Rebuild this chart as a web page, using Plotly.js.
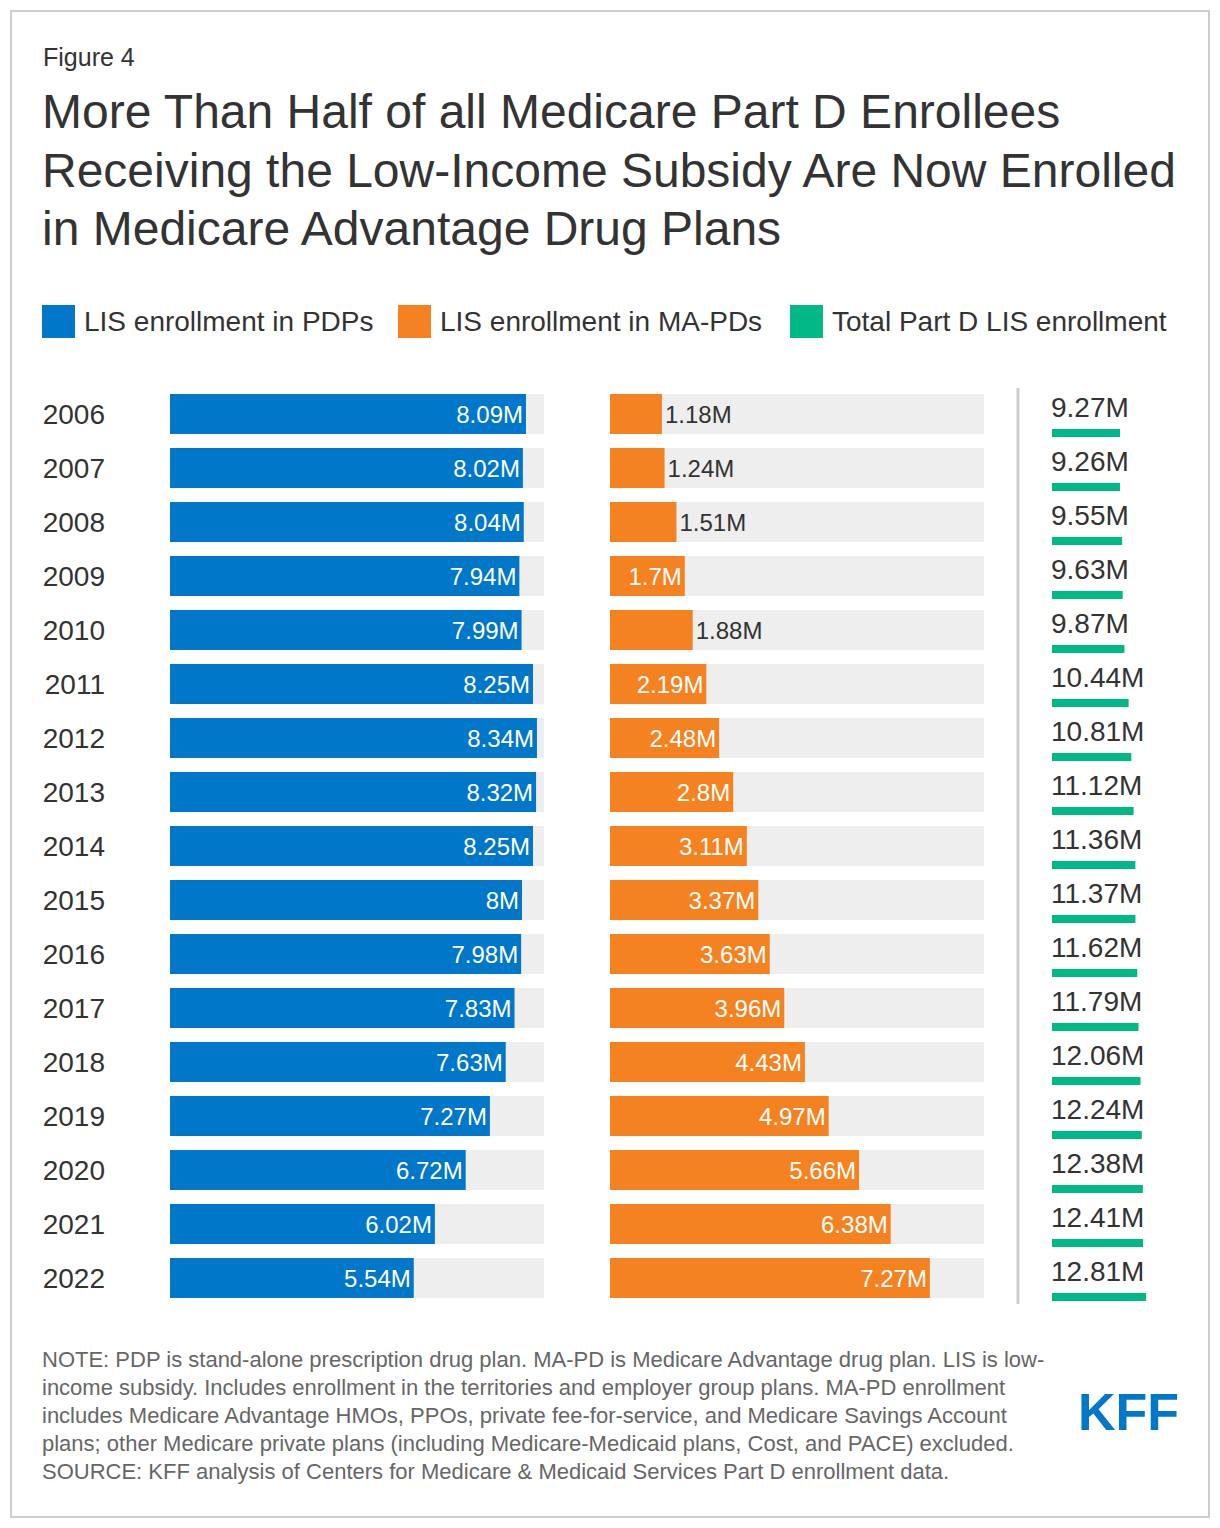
<!DOCTYPE html>
<html>
<head>
<meta charset="utf-8">
<script src="https://cdn.plot.ly/plotly-3.0.1.min.js"></script>
<style>html,body{margin:0;padding:0;background:#fff;}#chart{width:1220px;height:1528px;}</style>
</head>
<body>
<div id="chart"></div>
<script>
// ---- data ----
const years = ['2006','2007','2008','2009','2010','2011','2012','2013','2014','2015','2016','2017','2018','2019','2020','2021','2022'];
const pdpValues = [8.09,8.02,8.04,7.94,7.99,8.25,8.34,8.32,8.25,8.00,7.98,7.83,7.63,7.27,6.72,6.02,5.54];
const mapdValues = [1.18,1.24,1.51,1.70,1.88,2.19,2.48,2.80,3.11,3.37,3.63,3.96,4.43,4.97,5.66,6.38,7.27];
const totalValues = [9.27,9.26,9.55,9.63,9.87,10.44,10.81,11.12,11.36,11.37,11.62,11.79,12.06,12.24,12.38,12.41,12.81];
const mapdLabelPos = ['outside','outside','outside','inside','outside','inside','inside','inside','inside','inside','inside','inside','inside','inside','inside','inside','inside'];
const seriesNames = ['LIS enrollment in PDPs','LIS enrollment in MA-PDs','Total Part D LIS enrollment'];
const figureLabel = 'Figure 4';
const titleLines = ['More Than Half of all Medicare Part D Enrollees','Receiving the Low-Income Subsidy Are Now Enrolled','in Medicare Advantage Drug Plans'];
const noteLines = [
 'NOTE: PDP is stand-alone prescription drug plan. MA-PD is Medicare Advantage drug plan. LIS is low-',
 'income subsidy. Includes enrollment in the territories and employer group plans. MA-PD enrollment',
 'includes Medicare Advantage HMOs, PPOs, private fee-for-service, and Medicare Savings Account',
 'plans; other Medicare private plans (including Medicare-Medicaid plans, Cost, and PACE) excluded.',
 'SOURCE: KFF analysis of Centers for Medicare &amp; Medicaid Services Part D enrollment data.'
];
const panelMax = 8.5;
const totalMax = 13;

// ---- style ----
const W = 1220, H = 1528;
const FONT = 'Liberation Sans, Arial, Helvetica, sans-serif';
const BLUE = '#0077C8', ORANGE = '#F58220', GREEN = '#00B987', BG = '#EEEEEE', TXT = '#333333';
const X = p => p / W;
const Y = p => 1 - p / H;
const fmt = v => String(+v.toFixed(2)) + 'M';

const rowTop = 387, rowBottom = 1305;

const bgBar = (xa) => ({
  type: 'bar', orientation: 'h', y: years, x: years.map(() => panelMax),
  xaxis: xa, yaxis: 'y', marker: {color: BG}, width: 0.74,
  hoverinfo: 'skip', showlegend: false
});

const traces = [
  bgBar('x'),
  {
    type: 'bar', orientation: 'h', name: seriesNames[0], y: years, x: pdpValues,
    xaxis: 'x', yaxis: 'y', marker: {color: BLUE}, width: 0.74,
    text: pdpValues.map(fmt), textposition: 'inside', insidetextanchor: 'end',
    textfont: {family: FONT, size: 24, color: '#ffffff'}, constraintext: 'none',
    cliponaxis: false, showlegend: false, hoverinfo: 'x+y'
  },
  bgBar('x2'),
  {
    type: 'bar', orientation: 'h', name: seriesNames[1], y: years, x: mapdValues,
    xaxis: 'x2', yaxis: 'y', marker: {color: ORANGE}, width: 0.74,
    text: mapdValues.map(fmt), textposition: mapdLabelPos, insidetextanchor: 'end',
    insidetextfont: {family: FONT, size: 24, color: '#ffffff'},
    outsidetextfont: {family: FONT, size: 24, color: TXT}, constraintext: 'none',
    cliponaxis: false, showlegend: false, hoverinfo: 'x+y'
  },
  {
    type: 'bar', orientation: 'h', name: seriesNames[2], y: years, x: totalValues,
    xaxis: 'x3', yaxis: 'y', marker: {color: GREEN}, width: 8/54, offset: 15/54,
    showlegend: false, hoverinfo: 'x+y'
  }
];

const annotations = [];
annotations.push({xref:'paper', yref:'paper', x: X(41), y: Y(57), xanchor:'left', yanchor:'middle',
  text: figureLabel, showarrow:false, font:{family:FONT, size:25, color:TXT}});
titleLines.forEach((t, i) => annotations.push({xref:'paper', yref:'paper', x: X(40), y: Y(112 + i*58),
  xanchor:'left', yanchor:'middle', text: t, showarrow:false, font:{family:FONT, size:48, color:TXT}}));
noteLines.forEach((t, i) => annotations.push({xref:'paper', yref:'paper', x: X(40), y: Y(1359 + i*28.2),
  xanchor:'left', yanchor:'middle', text: t, showarrow:false, font:{family:FONT, size:22, color:'#666666'}}));
// legend
const legendItems = [{x:42, c:BLUE},{x:398, c:ORANGE},{x:790, c:GREEN}];
const shapes = [];
legendItems.forEach((it, i) => {
  shapes.push({type:'rect', xref:'paper', yref:'paper', x0:X(it.x), x1:X(it.x+33), y0:Y(305), y1:Y(338),
    fillcolor: it.c, line:{width:0}});
  annotations.push({xref:'paper', yref:'paper', x:X(it.x+40), y:Y(321), xanchor:'left', yanchor:'middle',
    text: seriesNames[i], showarrow:false, font:{family:FONT, size:28, color:TXT}});
});
// total labels (category axis -> use serial index)
years.forEach((yr, i) => annotations.push({xref:'x3', yref:'y', x:0, y:i, xanchor:'left', yanchor:'middle',
  yshift: 7, xshift: -3, text: fmt(totalValues[i]), showarrow:false, font:{family:FONT, size:28, color:TXT}}));
// KFF logo
annotations.push({xref:'paper', yref:'paper', x:X(1128), y:Y(1412), xanchor:'center', yanchor:'middle',
  text:'<b>KFF</b>', showarrow:false, font:{family:'Liberation Sans Narrow, Liberation Sans, Arial', size:52, color:BLUE}});

// border + divider
shapes.push({type:'rect', xref:'paper', yref:'paper', x0:X(11), x1:X(1209), y0:Y(1517), y1:Y(11),
  line:{color:'#cccccc', width:2}, fillcolor:'rgba(0,0,0,0)'});
shapes.push({type:'line', xref:'paper', yref:'paper', x0:X(1018), x1:X(1018), y0:Y(388), y1:Y(1304),
  line:{color:'#cccccc', width:3}});

const layout = {
  width: W, height: H, margin:{l:0, r:0, t:0, b:0},
  paper_bgcolor:'#ffffff', plot_bgcolor:'rgba(0,0,0,0)',
  barmode:'overlay', showlegend:false,
  font:{family:FONT, color:TXT},
  xaxis:{domain:[X(170), X(544)], range:[0, panelMax], visible:false, fixedrange:true},
  xaxis2:{domain:[X(610), X(984)], range:[0, panelMax], visible:false, anchor:'y', fixedrange:true},
  xaxis3:{domain:[X(1052), X(1052 + 7.34*totalMax)], range:[0, totalMax], visible:false, anchor:'y', fixedrange:true},
  yaxis:{domain:[Y(rowBottom), Y(rowTop)], type:'category', categoryorder:'array', categoryarray: years,
    range:[years.length - 0.5, -0.5], showgrid:false, zeroline:false, showline:false, ticks:'',
    tickfont:{family:FONT, size:28, color:TXT}, ticklabelstandoff: 64, fixedrange:true},
  annotations, shapes
};

Plotly.newPlot('chart', traces, layout, {displayModeBar:false, staticPlot:true});
</script>
</body>
</html>
